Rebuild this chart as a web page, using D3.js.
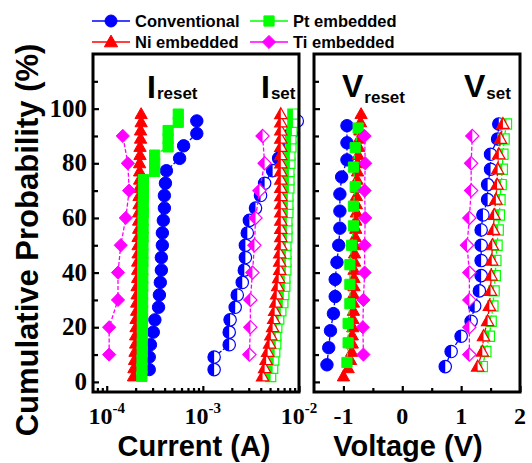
<!DOCTYPE html>
<html><head><meta charset="utf-8">
<script src="https://cdn.jsdelivr.net/npm/d3@7"></script>
<style>html,body{margin:0;padding:0;background:#fff;}svg{display:block;}</style>
</head><body>
<svg id="c" width="532" height="463"></svg>
<script>
// ---------------- data ----------------
const yTicks = [0, 20, 40, 60, 80, 100];
const yMinorTicks = [10, 30, 50, 70, 90, 110];
const currentMajorTicks = [1e-4, 1e-3, 1e-2];
const currentMinorTicks = [8e-5, 9e-5, 2e-4, 3e-4, 4e-4, 5e-4, 6e-4, 7e-4, 8e-4, 9e-4, 2e-3, 3e-3, 4e-3, 5e-3, 6e-3, 7e-3, 8e-3, 9e-3];
const currentTickLabels = [["10", "-4"], ["10", "-3"], ["10", "-2"]];
const voltageMajorTicks = [-1, 0, 1, 2];
const voltageMinorTicks = [-0.5, 0.5, 1.5];
const voltageTickLabels = ["-1", "0", "1", "2"];

const seriesNames = ["Conventional", "Pt embedded", "Ni embedded", "Ti embedded"];
const seriesColors = ["#0000ff", "#00ff00", "#ff0000", "#ff00ff"];

// probabilities (%)
const probConvI = [4.5, 9.1, 13.6, 18.2, 22.7, 27.3, 31.8, 36.4, 40.9, 45.5, 50, 54.5, 59.1, 63.6, 68.2, 72.7, 77.3, 81.8, 86.4, 90.9, 95.5];
const probDense = [2, 5, 8, 11, 14, 17, 20, 23, 26, 29, 32, 35, 38, 41, 44, 47, 50, 53, 56, 59, 62, 65, 68, 71, 74, 77, 80, 83, 86, 89, 92, 95, 98];
const probTi = [10, 20, 30, 40, 50, 60, 70, 80, 90];
const probConvVreset = [6.25, 12.5, 18.75, 25, 31.25, 37.5, 43.75, 50, 56.25, 62.5, 68.75, 75, 81.25, 87.5, 93.75];
const probSet18 = [5.6, 11.1, 16.7, 22.2, 27.8, 33.3, 38.9, 44.4, 50, 55.6, 61.1, 66.7, 72.2, 77.8, 83.3, 88.9, 94.4];
const probPtVreset = [7.1, 14.3, 21.4, 28.6, 35.7, 42.9, 50, 57.1, 64.3, 71.4, 78.6, 85.7, 92.9];

// currents (A)
const convIreset = [2.77e-4, 2.77e-4, 2.85e-4, 3.05e-4, 3.17e-4, 3.46e-4, 3.53e-4, 3.61e-4, 3.70e-4, 3.70e-4, 3.79e-4, 3.79e-4, 3.88e-4, 3.98e-4, 3.98e-4, 4.08e-4, 4.18e-4, 5.73e-4, 6.31e-4, 8.65e-4, 8.65e-4];
const convIset = [1.31e-3, 1.31e-3, 1.88e-3, 1.88e-3, 1.92e-3, 2.17e-3, 2.28e-3, 2.57e-3, 2.70e-3, 2.77e-3, 2.77e-3, 2.90e-3, 3.05e-3, 3.53e-3, 3.98e-3, 4.39e-3, 5.32e-3, 6.15e-3, 7.12e-3, 8.24e-3, 9.6e-3];
const ptIreset = [2.32e-4, 2.33e-4, 2.33e-4, 2.34e-4, 2.34e-4, 2.35e-4, 2.35e-4, 2.35e-4, 2.36e-4, 2.36e-4, 2.36e-4, 2.37e-4, 2.37e-4, 2.37e-4, 2.38e-4, 2.38e-4, 2.38e-4, 2.39e-4, 2.39e-4, 2.39e-4, 2.40e-4, 2.40e-4, 2.41e-4, 2.41e-4, 2.41e-4, 3.15e-4, 3.15e-4, 3.15e-4, 4.35e-4, 4.35e-4, 4.35e-4, 5.55e-4, 5.55e-4];
const ptIset = [5.07e-3, 5.32e-3, 5.46e-3, 5.59e-3, 5.73e-3, 5.73e-3, 5.87e-3, 6.15e-3, 6.47e-3, 6.79e-3, 6.95e-3, 7.12e-3, 7.12e-3, 7.30e-3, 7.30e-3, 7.30e-3, 7.30e-3, 7.48e-3, 7.48e-3, 7.48e-3, 7.66e-3, 7.66e-3, 7.66e-3, 7.85e-3, 7.85e-3, 7.85e-3, 8.04e-3, 8.04e-3, 8.24e-3, 8.24e-3, 8.44e-3, 8.65e-3, 8.65e-3];
const niIreset = [1.90e-4, 1.92e-4, 1.95e-4, 1.97e-4, 2.00e-4, 2.00e-4, 2.02e-4, 2.02e-4, 2.05e-4, 2.05e-4, 2.07e-4, 2.07e-4, 2.10e-4, 2.10e-4, 2.10e-4, 2.12e-4, 2.12e-4, 2.12e-4, 2.15e-4, 2.15e-4, 2.15e-4, 2.17e-4, 2.17e-4, 2.17e-4, 2.20e-4, 2.20e-4, 2.20e-4, 2.22e-4, 2.22e-4, 2.25e-4, 2.25e-4, 2.28e-4, 2.28e-4];
const niIset = [4.18e-3, 4.39e-3, 4.55e-3, 4.72e-3, 4.95e-3, 5.10e-3, 5.32e-3, 5.46e-3, 5.59e-3, 5.73e-3, 5.87e-3, 6.01e-3, 6.15e-3, 6.31e-3, 6.31e-3, 6.31e-3, 6.47e-3, 6.47e-3, 6.47e-3, 6.47e-3, 6.47e-3, 6.47e-3, 6.47e-3, 6.47e-3, 6.47e-3, 6.47e-3, 6.47e-3, 6.47e-3, 6.47e-3, 6.47e-3, 6.47e-3, 6.47e-3, 6.47e-3];
const tiIreset = [1.06e-4, 1.06e-4, 1.31e-4, 1.31e-4, 1.40e-4, 1.58e-4, 1.71e-4, 1.66e-4, 1.47e-4];
const tiIset = [3.05e-3, 3.12e-3, 3.12e-3, 3.28e-3, 3.44e-3, 3.53e-3, 3.88e-3, 4.39e-3, 4.18e-3];

// voltages (V)
const convVreset = [-1.28, -1.25, -1.22, -1.17, -1.14, -1.14, -1.11, -1.08, -1.06, -1.06, -1.06, -1.03, -0.94, -0.94, -0.94];
const convVset = [0.73, 0.83, 1.00, 1.17, 1.23, 1.31, 1.34, 1.34, 1.34, 1.34, 1.37, 1.45, 1.45, 1.50, 1.50, 1.62, 1.64];
const ptVreset = [-0.94, -0.92, -0.92, -0.89, -0.89, -0.89, -0.86, -0.83, -0.83, -0.80, -0.83, -0.80, -0.75];
const ptVset = [1.36, 1.42, 1.48, 1.51, 1.54, 1.56, 1.58, 1.59, 1.61, 1.63, 1.65, 1.66, 1.68, 1.70, 1.71, 1.73, 1.77];
const niVreset = [-1.00, -0.92, -0.88, -0.86, -0.85, -0.85, -0.84, -0.84, -0.83, -0.83, -0.83, -0.82, -0.82, -0.82, -0.81, -0.81, -0.80, -0.80, -0.79, -0.79, -0.78, -0.78, -0.78, -0.77, -0.77, -0.76, -0.76, -0.75, -0.74, -0.73, -0.72, -0.71, -0.70];
const niVset = [1.28, 1.36, 1.38, 1.45, 1.48, 1.50, 1.51, 1.52, 1.53, 1.55, 1.56, 1.59, 1.61, 1.62, 1.64, 1.67, 1.71];
const tiVreset = [-0.66, -0.67, -0.66, -0.64, -0.64, -0.63, -0.64, -0.63, -0.64];
const tiVset = [1.14, 1.14, 1.14, 1.14, 1.10, 1.14, 1.17, 1.17, 1.19];

// ---------------- layout ----------------
const svg = d3.select("#c");
const plotTop = 54, plotBottom = 392;
const leftP = {x0: 93, x1: 299};
const rightP = {x0: 314, x1: 520};
const y = d3.scaleLinear().domain([-3.7, 120]).range([plotBottom, plotTop]);
const xI = d3.scaleLog().domain([7.2e-5, 1e-2]).range([leftP.x0, leftP.x1]);
const xV = d3.scaleLinear().domain([-1.5, 2]).range([rightP.x0, rightP.x1]);

const sansB = "'Liberation Sans', Arial, sans-serif";
const serif = "'Liberation Serif', 'Times New Roman', serif";

function shapeFull(type, s) {
  if (type === "circle") return `M0,${-s}A${s},${s} 0 1,1 0,${s}A${s},${s} 0 1,1 0,${-s}Z`;
  if (type === "square") { const h = s * 0.85; return `M${-h},${-h}H${h}V${h}H${-h}Z`; }
  if (type === "triangle") { const w = s * 1.1, h1 = s * 1.15, h2 = s * 0.8; return `M0,${-h1}L${w},${h2}L${-w},${h2}Z`; }
  if (type === "diamond") { const r = s * 1.1; return `M0,${-r}L${r},0L0,${r}L${-r},0Z`; }
}
function shapeLeft(type, s) {
  if (type === "circle") return `M0,${-s}A${s},${s} 0 0,0 0,${s}Z`;
  if (type === "square") { const h = s * 0.85; return `M${-h},${-h}H0V${h}H${-h}Z`; }
  if (type === "triangle") { const w = s * 1.1, h1 = s * 1.15, h2 = s * 0.8; return `M0,${-h1}L0,${h2}L${-w},${h2}Z`; }
  if (type === "diamond") { const r = s * 1.1; return `M0,${-r}L0,${r}L${-r},0Z`; }
}

const plot = svg.append("g");
function series(x, vals, probs, color, type, half, size) {
  const pts = vals.map((v, i) => [x(v), y(probs[i])]);
  plot.append("path").attr("d", d3.line()(pts)).attr("fill", "none")
    .attr("stroke", color).attr("stroke-width", 1.3).attr("stroke-dasharray", "4,2");
  const g = plot.append("g");
  pts.forEach(p => {
    const m = g.append("g").attr("transform", `translate(${p[0]},${p[1]})`);
    if (half) {
      m.append("path").attr("d", shapeFull(type, size)).attr("fill", "#fff").attr("stroke", color).attr("stroke-width", 1.2);
      m.append("path").attr("d", shapeLeft(type, size)).attr("fill", color);
    } else {
      m.append("path").attr("d", shapeFull(type, size)).attr("fill", color).attr("stroke", color).attr("stroke-width", 1);
    }
  });
}

series(xI, convIreset, probConvI, seriesColors[0], "circle", false, 6.2);
series(xI, convIset, probConvI, seriesColors[0], "circle", true, 6.2);
series(xV, convVreset, probConvVreset, seriesColors[0], "circle", false, 6.2);
series(xV, convVset, probSet18, seriesColors[0], "circle", true, 6.2);
series(xI, niIreset, probDense, seriesColors[2], "triangle", false, 5.6);
series(xV, niVreset, probDense, seriesColors[2], "triangle", false, 5.6);
series(xI, ptIreset, probDense, seriesColors[1], "square", false, 6);
series(xV, ptVreset, probPtVreset, seriesColors[1], "square", false, 6);
series(xI, ptIset, probDense, seriesColors[1], "square", true, 6);
series(xV, ptVset, probSet18, seriesColors[1], "square", true, 6);
series(xI, niIset, probDense, seriesColors[2], "triangle", true, 5.6);
series(xV, niVset, probSet18, seriesColors[2], "triangle", true, 5.6);
series(xI, tiIreset, probTi, seriesColors[3], "diamond", false, 6);
series(xI, tiIset, probTi, seriesColors[3], "diamond", true, 6);
series(xV, tiVreset, probTi, seriesColors[3], "diamond", false, 6);
series(xV, tiVset, probTi, seriesColors[3], "diamond", true, 6);

// ---------------- axes ----------------
function styleAxis(g) {
  g.select(".domain").remove();
  g.selectAll(".tick line").attr("stroke", "#000").attr("stroke-width", 2.2);
}
const axes = svg.append("g");
[leftP, rightP].forEach(P => {
  axes.append("g").attr("transform", `translate(${P.x0},0)`)
    .call(d3.axisRight(y).tickValues(yTicks).tickSize(6).tickFormat(""))
    .call(styleAxis);
  axes.append("g").attr("transform", `translate(${P.x0},0)`)
    .call(d3.axisRight(y).tickValues(yMinorTicks).tickSize(5).tickFormat(""))
    .call(styleAxis);
});
axes.append("g").attr("transform", `translate(0,${plotBottom})`)
  .call(d3.axisTop(xI).tickValues(currentMajorTicks).tickSize(6).tickFormat(""))
  .call(styleAxis);
axes.append("g").attr("transform", `translate(0,${plotBottom})`)
  .call(d3.axisTop(xI).tickValues(currentMinorTicks).tickSize(4).tickFormat(""))
  .call(styleAxis);
axes.append("g").attr("transform", `translate(0,${plotBottom})`)
  .call(d3.axisTop(xV).tickValues(voltageMajorTicks).tickSize(6).tickFormat(""))
  .call(styleAxis);
axes.append("g").attr("transform", `translate(0,${plotBottom})`)
  .call(d3.axisTop(xV).tickValues(voltageMinorTicks).tickSize(4).tickFormat(""))
  .call(styleAxis);

[leftP, rightP].forEach(P => {
  svg.append("rect").attr("x", P.x0).attr("y", plotTop).attr("width", P.x1 - P.x0).attr("height", plotBottom - plotTop)
    .attr("fill", "none").attr("stroke", "#000").attr("stroke-width", 3);
});

yTicks.forEach(t => {
  svg.append("text").attr("x", 87).attr("y", y(t) + 8).attr("text-anchor", "end")
    .attr("font-family", serif).attr("font-weight", "bold").attr("font-size", 25).text(t);
});
currentMajorTicks.forEach((t, i) => {
  const tx = svg.append("text").attr("x", xI(t)).attr("y", 424).attr("text-anchor", "middle")
    .attr("font-family", serif).attr("font-weight", "bold").attr("font-size", 24);
  tx.append("tspan").text(currentTickLabels[i][0]);
  tx.append("tspan").attr("dy", -11).attr("font-size", 15).text(currentTickLabels[i][1]);
});
voltageMajorTicks.forEach((t, i) => {
  svg.append("text").attr("x", xV(t)).attr("y", 424).attr("text-anchor", "middle")
    .attr("font-family", serif).attr("font-weight", "bold").attr("font-size", 24).text(voltageTickLabels[i]);
});

svg.append("text").attr("x", 194).attr("y", 456).attr("text-anchor", "middle")
  .attr("font-family", sansB).attr("font-weight", "bold").attr("font-size", 29).text("Current (A)");
svg.append("text").attr("x", 408).attr("y", 456).attr("text-anchor", "middle")
  .attr("font-family", sansB).attr("font-weight", "bold").attr("font-size", 29).text("Voltage (V)");
svg.append("text").attr("transform", `translate(38,240) rotate(-90)`).attr("text-anchor", "middle")
  .attr("font-family", sansB).attr("font-weight", "bold").attr("font-size", 31).text("Cumulative Probability (%)");

function panelLabel(x, yb, big, small, dy) {
  const t = svg.append("text").attr("x", x).attr("y", yb).attr("font-family", sansB).attr("font-weight", "bold");
  t.append("tspan").attr("font-size", 32).text(big);
  t.append("tspan").attr("font-size", 17).attr("dx", 1).attr("dy", dy).text(small);
}
panelLabel(147, 98, "I", "reset", 1);
panelLabel(261, 98, "I", "set", 1);
panelLabel(342, 97, "V", "reset", 6);
panelLabel(464, 97, "V", "set", 2);

const legendItems = [
  {name: seriesNames[0], color: seriesColors[0], type: "circle", x: 92, y: 21},
  {name: seriesNames[1], color: seriesColors[1], type: "square", x: 250, y: 21},
  {name: seriesNames[2], color: seriesColors[2], type: "triangle", x: 92, y: 42},
  {name: seriesNames[3], color: seriesColors[3], type: "diamond", x: 250, y: 42}
];
legendItems.forEach(d => {
  const g = svg.append("g").attr("transform", `translate(${d.x},${d.y})`);
  g.append("line").attr("x1", 0).attr("x2", 38).attr("stroke", d.color).attr("stroke-width", 1.5);
  g.append("path").attr("transform", "translate(19,0)").attr("d", shapeFull(d.type, 6)).attr("fill", d.color).attr("stroke", d.color);
  g.append("text").attr("x", 43).attr("y", 6).attr("font-family", sansB).attr("font-weight", "bold")
    .attr("font-size", 16.5).text(d.name);
});
</script>
</body></html>
